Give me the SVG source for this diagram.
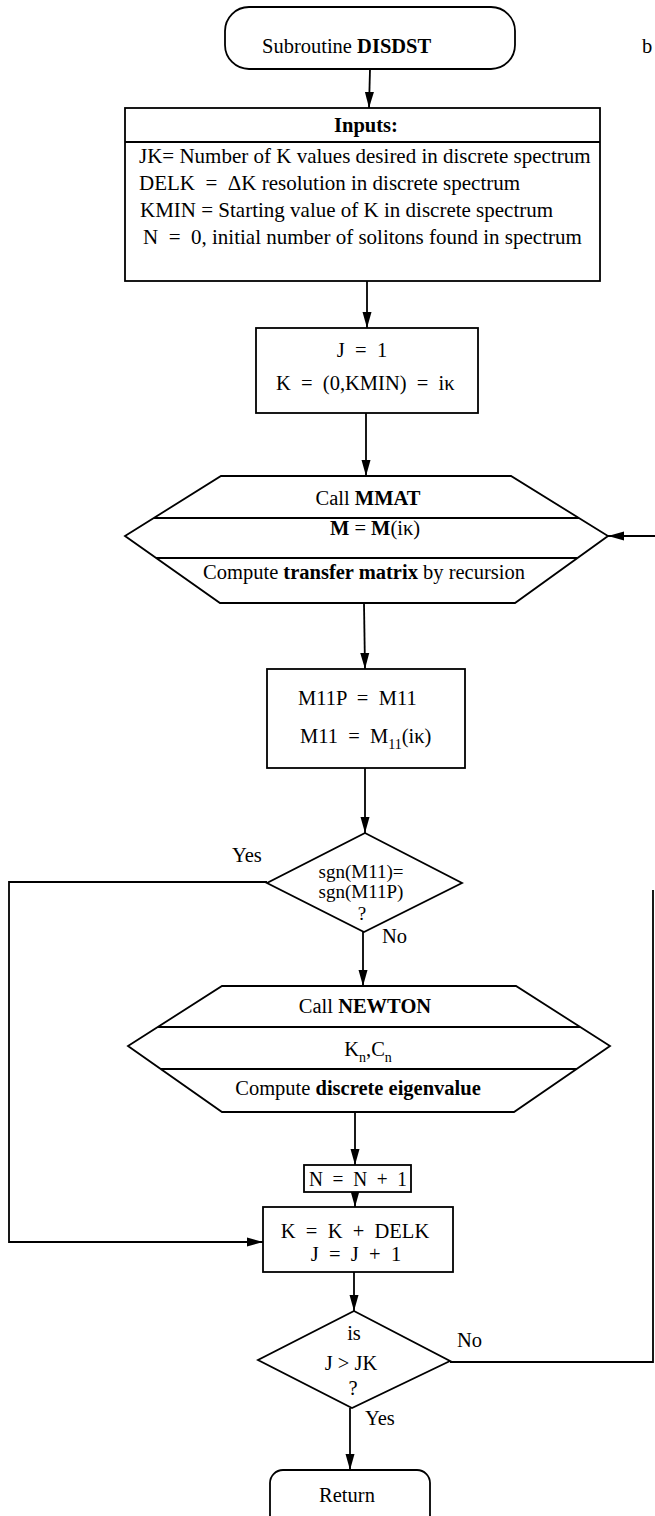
<svg xmlns="http://www.w3.org/2000/svg" width="655" height="1516" viewBox="0 0 655 1516" xml:space="preserve">
<defs>
<marker id="ah" markerUnits="userSpaceOnUse" markerWidth="16" markerHeight="10" refX="16" refY="5" orient="auto"><path d="M0,0.5 L16,5 L0,9.5 z" fill="#000"/></marker>
<style>
.s{fill:none;stroke:#000;stroke-width:1.8}
.a{fill:none;stroke:#000;stroke-width:1.8;marker-end:url(#ah)}
.n{fill:#fff;stroke:#000;stroke-width:1.8}
text{font-family:"Liberation Serif","Times New Roman",serif;font-size:20.5px;fill:#000;white-space:pre}
.c{text-anchor:middle}
.b{font-weight:bold}
.i{font-size:21px}
.d{font-size:19px}
.sub{font-size:14px}
</style>
</defs>
<rect x="0" y="0" width="655" height="1516" fill="#fff"/>

<g id="connectors">
<path class="a" d="M370,69 L369,108"/>
<path class="a" d="M367,281 L367,328"/>
<path class="a" d="M366,413 L366,476"/>
<path class="a" d="M364,604 L365,669"/>
<path class="a" d="M365,768 L365,833"/>
<path class="a" d="M363,932 L363,986"/>
<path class="a" d="M355,1112 L355,1165"/>
<path class="a" d="M355,1192 L355,1207"/>
<path class="a" d="M354,1272 L354,1311"/>
<path class="a" d="M350,1408 L350,1470"/>
<path class="a" d="M267,882 L9,882 L9,1242 L263,1242"/>
<path class="s" d="M450,1362 L653,1362 L653,890"/>
<path class="a" d="M656,536 L608,536"/>
</g>

<g id="start">
<rect class="n" x="225" y="7" width="290" height="62" rx="24"/>
<text x="262" y="53">Subroutine <tspan class="b">DISDST</tspan></text>
</g>

<g id="edge-text">
<text x="642" y="53">b</text>
</g>

<g id="inputs">
<rect class="n" x="125" y="108" width="475" height="173"/>
<line class="s" x1="125" y1="142" x2="600" y2="142"/>
<text class="c b" x="366" y="132">Inputs:</text>
<text class="i" x="139" y="163">JK= Number of K values desired in discrete spectrum</text>
<text class="i" x="139" y="190">DELK  =  ΔK resolution in discrete spectrum</text>
<text class="i" x="140" y="217">KMIN = Starting value of K in discrete spectrum</text>
<text class="i" x="143" y="244">N  =  0, initial number of solitons found in spectrum</text>
</g>

<g id="init">
<rect class="n" x="256" y="328" width="222" height="85"/>
<text class="c" x="362" y="357">J  =  1</text>
<text x="276" y="390">K  =  (0,KMIN)  =  iκ</text>
</g>

<g id="mmat">
<polygon class="n" points="125,536 221,476 511,476 608,536 515,603 220,603"/>
<line class="s" x1="154" y1="518" x2="579" y2="518"/>
<line class="s" x1="156" y1="558" x2="577" y2="558"/>
<text class="c" x="368" y="505">Call <tspan class="b">MMAT</tspan></text>
<text class="c" x="375" y="535"><tspan class="b">M</tspan> = <tspan class="b">M</tspan>(iκ)</text>
<text class="c" x="364" y="579">Compute <tspan class="b">transfer matrix</tspan> by recursion</text>
</g>

<g id="m11">
<rect class="n" x="267" y="669" width="198" height="99"/>
<text x="298" y="705">M11P  =  M11</text>
<text x="300" y="743">M11  =  M<tspan class="sub" dy="6">11</tspan><tspan dy="-6">(iκ)</tspan></text>
</g>

<g id="sgn-test">
<polygon class="n" points="365,833 462,883 364,932 267,883"/>
<text class="c d" x="361" y="878">sgn(M11)=</text>
<text class="c d" x="361" y="898">sgn(M11P)</text>
<text class="c d" x="362" y="920">?</text>
<text x="232" y="862">Yes</text>
<text x="382" y="943">No</text>
</g>

<g id="newton">
<polygon class="n" points="128,1046 222,986 516,986 610,1046 514,1112 222,1112"/>
<line class="s" x1="158" y1="1027" x2="580" y2="1027"/>
<line class="s" x1="161" y1="1069" x2="577" y2="1069"/>
<text class="c" x="365" y="1013">Call <tspan class="b">NEWTON</tspan></text>
<text class="c" x="368" y="1056">K<tspan class="sub" dy="6">n</tspan><tspan dy="-6">,C</tspan><tspan class="sub" dy="6">n</tspan></text>
<text class="c" x="358" y="1095">Compute <tspan class="b">discrete eigenvalue</tspan></text>
</g>

<g id="count">
<rect class="n" x="304" y="1165" width="107" height="27"/>
<text class="c" x="358" y="1186" textLength="98" lengthAdjust="spacingAndGlyphs">N  =  N  +  1</text>
</g>

<g id="step">
<rect class="n" x="263" y="1207" width="190" height="65"/>
<text class="c" x="355" y="1238">K  =  K  +  DELK</text>
<text class="c" x="356" y="1261">J  =  J  +  1</text>
</g>

<g id="end-test">
<polygon class="n" points="354,1311 450,1361 352,1408 258,1360"/>
<text class="c" x="354" y="1340">is</text>
<text class="c" x="351" y="1370">J &gt; JK</text>
<text class="c" x="353" y="1395">?</text>
<text x="457" y="1347">No</text>
<text x="365" y="1425">Yes</text>
</g>

<g id="return">
<rect class="n" x="270" y="1470" width="160" height="60" rx="13"/>
<text class="c" x="347" y="1502">Return</text>
</g>
</svg>
